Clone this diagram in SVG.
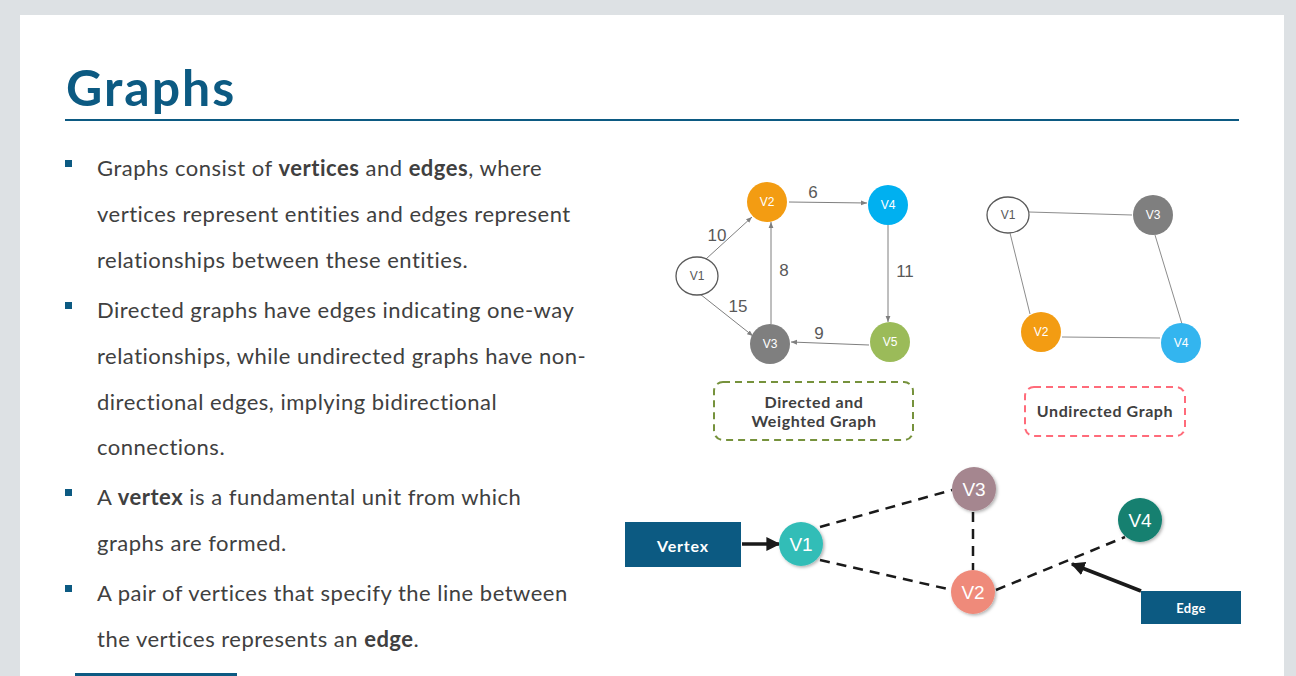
<svg xmlns="http://www.w3.org/2000/svg" width="1296" height="676" viewBox="0 0 1296 676">
  <style>
    .body { font-family: Lato, "Open Sans", "Liberation Sans", sans-serif; font-size: 22px; letter-spacing: 0.5px; fill: #404040; }
    .body .b { font-weight: bold; }
    .title { font-family: Lato, "Liberation Sans", sans-serif; font-size: 50px; letter-spacing: 2px; font-weight: bold; fill: #0c5a82; }
    .nlabel { font-family: "Liberation Sans", Arial, sans-serif; font-size: 12px; fill: #ffffff; text-anchor: middle; dominant-baseline: central; }
    .wlabel { font-family: "Liberation Sans", Arial, sans-serif; font-size: 17px; fill: #595959; text-anchor: middle; }
    .edge { stroke: #7f7f7f; stroke-width: 1; fill: none; }
    .uedge { stroke: #8c8c8c; stroke-width: 1; fill: none; }
    .caption { font-family: Lato, "Liberation Sans", sans-serif; font-size: 16px; letter-spacing: 0.6px; font-weight: bold; fill: #404040; text-anchor: middle; }
    .dash { stroke: #1a1a1a; stroke-width: 2.5; stroke-dasharray: 10 7; fill: none; }
    .big { font-family: "Liberation Sans", Arial, sans-serif; font-size: 19px; fill: #ffffff; text-anchor: middle; dominant-baseline: central; }
    .tag { fill: #0c5a82; }
    .tagtext { font-family: Lato, "Liberation Sans", sans-serif; font-size: 16px; letter-spacing: 0.8px; font-weight: bold; fill: #ffffff; text-anchor: middle; dominant-baseline: central; }
  </style>
  <defs>
    <marker id="thin" viewBox="0 0 10 10" refX="10" refY="5" markerWidth="6" markerHeight="6" orient="auto">
      <path d="M0,1 L10,5 L0,9 z" fill="#7f7f7f"/>
    </marker>
    <marker id="thick" viewBox="0 0 10 10" refX="9" refY="5" markerWidth="4" markerHeight="4" orient="auto">
      <path d="M0,0 L10,5 L0,10 z" fill="#1a1a1a"/>
    </marker>
    <filter id="shadow" x="-30%" y="-30%" width="160%" height="160%">
      <feDropShadow dx="1.5" dy="1.5" stdDeviation="1.5" flood-color="#000000" flood-opacity="0.3"/>
    </filter>
  </defs>

  <!-- page background and slide panel -->
  <rect x="0" y="0" width="1296" height="676" fill="#dde1e4"/>
  <rect x="20" y="15" width="1264" height="661" fill="#ffffff"/>

  <!-- heading -->
  <text class="title" x="66" y="106">Graphs</text>
  <rect x="65" y="119" width="1174" height="2" fill="#0c5a82"/>

  <!-- bullet list -->
  <g id="bullets">
    <rect x="65" y="160" width="7" height="7" fill="#0c5a82"/>
    <rect x="65" y="302" width="7" height="7" fill="#0c5a82"/>
    <rect x="65" y="489" width="7" height="7" fill="#0c5a82"/>
    <rect x="65" y="585" width="7" height="7" fill="#0c5a82"/>
    <text class="body" x="97" y="176">Graphs consist of <tspan class="b">vertices</tspan> and <tspan class="b">edges</tspan>, where</text>
    <text class="body" x="97" y="222">vertices represent entities and edges represent</text>
    <text class="body" x="97" y="268">relationships between these entities.</text>
    <text class="body" x="97" y="318">Directed graphs have edges indicating one-way</text>
    <text class="body" x="97" y="364">relationships, while undirected graphs have non-</text>
    <text class="body" x="97" y="410">directional edges, implying bidirectional</text>
    <text class="body" x="97" y="455">connections.</text>
    <text class="body" x="97" y="505">A <tspan class="b">vertex</tspan> is a fundamental unit from which</text>
    <text class="body" x="97" y="551">graphs are formed.</text>
    <text class="body" x="97" y="601">A pair of vertices that specify the line between</text>
    <text class="body" x="97" y="647">the vertices represents an <tspan class="b">edge</tspan>.</text>
  </g>
  <rect x="75" y="673" width="162" height="3" fill="#0c5a82"/>

  <!-- connectors -->
  <g id="connectors">
    <!-- directed, weighted graph -->
    <line class="edge" x1="706" y1="259" x2="752" y2="217" marker-end="url(#thin)"/>
    <line class="edge" x1="789" y1="202" x2="867" y2="203" marker-end="url(#thin)"/>
    <line class="edge" x1="771" y1="324" x2="771" y2="222" marker-end="url(#thin)"/>
    <line class="edge" x1="888" y1="225" x2="888" y2="322" marker-end="url(#thin)"/>
    <line class="edge" x1="869" y1="345" x2="791" y2="342" marker-end="url(#thin)"/>
    <line class="edge" x1="700" y1="294" x2="753" y2="336" marker-end="url(#thin)"/>
    <!-- undirected graph -->
    <line class="uedge" x1="1029" y1="212" x2="1132" y2="215"/>
    <line class="uedge" x1="1010" y1="233" x2="1030" y2="314"/>
    <line class="uedge" x1="1155" y1="235" x2="1182" y2="324"/>
    <line class="uedge" x1="1062" y1="337" x2="1160" y2="338"/>
    <!-- vertex / edge illustration -->
    <line class="dash" x1="820" y1="527" x2="952" y2="490"/>
    <line class="dash" x1="820" y1="560" x2="952" y2="590"/>
    <line class="dash" x1="973" y1="512" x2="973" y2="570"/>
    <line class="dash" x1="996" y1="590" x2="1125" y2="537"/>
    <line x1="742" y1="544" x2="779" y2="544" stroke="#1a1a1a" stroke-width="3.5" marker-end="url(#thick)"/>
    <line x1="1141" y1="591" x2="1072" y2="564" stroke="#1a1a1a" stroke-width="3.5" marker-end="url(#thick)"/>
  </g>

  <!-- edge weights -->
  <g id="weights">
    <text class="wlabel" x="717" y="241">10</text>
    <text class="wlabel" x="813" y="198">6</text>
    <text class="wlabel" x="784" y="276">8</text>
    <text class="wlabel" x="905" y="277">11</text>
    <text class="wlabel" x="738" y="312">15</text>
    <text class="wlabel" x="819" y="339">9</text>
  </g>

  <!-- directed graph vertices -->
  <g id="d-v1"><ellipse cx="697" cy="276" rx="21" ry="19" fill="#ffffff" stroke="#595959" stroke-width="1.3"/><text class="nlabel" x="697" y="276" style="fill:#595959">V1</text></g>
  <g id="d-v2"><circle cx="767" cy="202" r="20" fill="#f39c12"/><text class="nlabel" x="767" y="202">V2</text></g>
  <g id="d-v4"><circle cx="888" cy="205" r="20" fill="#00b0f0"/><text class="nlabel" x="888" y="205">V4</text></g>
  <g id="d-v3"><circle cx="770" cy="344" r="20" fill="#7f7f7f"/><text class="nlabel" x="770" y="344">V3</text></g>
  <g id="d-v5"><circle cx="890" cy="342" r="20" fill="#9bbb59"/><text class="nlabel" x="890" y="342">V5</text></g>

  <!-- undirected graph vertices -->
  <g id="u-v1"><ellipse cx="1008" cy="215" rx="21" ry="18" fill="#ffffff" stroke="#595959" stroke-width="1.3"/><text class="nlabel" x="1008" y="215" style="fill:#595959">V1</text></g>
  <g id="u-v3"><circle cx="1153" cy="215" r="20" fill="#7f7f7f"/><text class="nlabel" x="1153" y="215">V3</text></g>
  <g id="u-v2"><circle cx="1041" cy="332" r="20" fill="#f39c12"/><text class="nlabel" x="1041" y="332">V2</text></g>
  <g id="u-v4"><circle cx="1181" cy="343" r="20" fill="#33b5ef"/><text class="nlabel" x="1181" y="343">V4</text></g>

  <!-- captions -->
  <g id="cap-directed">
    <rect x="714" y="382" width="199" height="58" rx="9" fill="none" stroke="#76923c" stroke-width="2" stroke-dasharray="7 5"/>
    <text class="caption" x="814" y="408">Directed and</text>
    <text class="caption" x="814" y="427">Weighted Graph</text>
  </g>
  <g id="cap-undirected">
    <rect x="1025" y="387" width="160" height="49" rx="9" fill="none" stroke="#ff6b7a" stroke-width="2" stroke-dasharray="7 5"/>
    <text class="caption" x="1105" y="417">Undirected Graph</text>
  </g>

  <!-- vertex / edge illustration -->
  <g id="tag-vertex"><rect class="tag" x="625" y="522" width="116" height="45"/><text class="tagtext" x="683" y="545">Vertex</text></g>
  <g id="tag-edge"><rect class="tag" x="1141" y="591" width="100" height="33"/><text class="tagtext" x="1191" y="608" style="font-size:13px;letter-spacing:0.3px">Edge</text></g>
  <g id="e-v1"><circle cx="801" cy="544" r="22" fill="#33bdb7" filter="url(#shadow)"/><text class="big" x="801" y="544">V1</text></g>
  <g id="e-v3"><circle cx="974" cy="489" r="22" fill="#a5868f" filter="url(#shadow)"/><text class="big" x="974" y="489">V3</text></g>
  <g id="e-v2"><circle cx="973" cy="592" r="22" fill="#ef8a7a" filter="url(#shadow)"/><text class="big" x="973" y="592">V2</text></g>
  <g id="e-v4"><circle cx="1140" cy="520" r="22" fill="#128070" filter="url(#shadow)"/><text class="big" x="1140" y="520">V4</text></g>
</svg>
